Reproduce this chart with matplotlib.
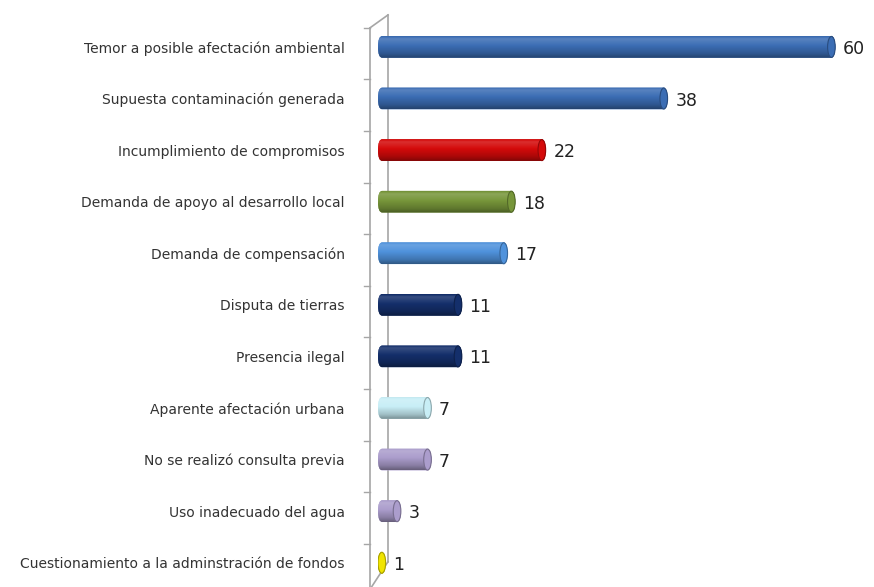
import numpy as np
import matplotlib.pyplot as plt
from matplotlib.patches import FancyBboxPatch, Ellipse
from matplotlib.colors import to_rgb

categories = [
    "Temor a posible afectación ambiental",
    "Supuesta contaminación generada",
    "Incumplimiento de compromisos",
    "Demanda de apoyo al desarrollo local",
    "Demanda de compensación",
    "Disputa de tierras",
    "Presencia ilegal",
    "Aparente afectación urbana",
    "No se realizó consulta previa",
    "Uso inadecuado del agua",
    "Cuestionamiento a la adminstración de fondos",
]
values = [60, 38, 22, 18, 17, 11, 11, 7, 7, 3, 1]
colors = ["#3b6db4", "#3b6db4", "#d40a0a", "#77963a", "#4f92dc", "#142f6b",
          "#142f6b", "#c8eef6", "#ab9dcc", "#ab9dcc", "#f0e400"]

fig = plt.figure(figsize=(8.74, 5.87), dpi=100)
ax = fig.add_axes([0.4325, 0.0, 0.558, 0.964])

bar_h = 0.42


def shade(c, f):
    c = np.array(to_rgb(c))
    if f >= 0:
        return c + (1 - c) * f
    return c * (1 + f)


for i, (v, c) in enumerate(zip(values, colors)):
    y0 = i - bar_h / 2
    patch = FancyBboxPatch((0, y0), v, bar_h,
                           boxstyle="round,pad=0,rounding_size=0.55",
                           mutation_aspect=bar_h / 1.1, fc=c, ec="none", zorder=2)
    ax.add_patch(patch)
    # vertical gradient for a cylinder look
    t = np.linspace(0, 1, 64)
    prof = np.interp(t, [0, 0.12, 0.4, 0.8, 1], [-0.05, 0.15, 0.02, -0.2, -0.4])
    grad = np.array([shade(c, p) for p in prof]).clip(0, 1)
    img = ax.imshow(grad[:, None, :], extent=[0, v, y0 + bar_h, y0],
                    aspect="auto", zorder=3, interpolation="bilinear")
    img.set_clip_path(patch)
    # end cap
    cap = Ellipse((v - 0.5, i), 1.0, bar_h * 0.97, fc=shade(c, 0.0),
                  ec=shade(c, -0.3), lw=0.8, zorder=4)
    ax.add_patch(cap)
    ax.text(v + 1.0, i + 0.04, str(v), va="center", ha="left",
            fontsize=12.5, color="#222222", zorder=5)

# 3D wall outline
wall = "#a6a6a6"
ax.plot([-1.05, -1.05], [-0.37, 10.55], color=wall, lw=1.2, clip_on=False, zorder=1)
ax.plot([-1.05, 1.31], [-0.37, -0.62], color=wall, lw=1.2, clip_on=False, zorder=1)
ax.plot([1.31, 1.31], [-0.62, 9.98], color=wall, lw=1.2, clip_on=False, zorder=1)
ax.plot([1.31, -0.85], [9.98, 10.47], color=wall, lw=1.2, clip_on=False, zorder=1)
for k in range(-1, len(values)):
    yt = k + 0.5 + 0.13
    if yt < -0.4:
        continue
    ax.plot([-1.85, -1.05], [yt, yt], color=wall, lw=1.0, clip_on=False, zorder=1)

ax.set_xlim(0, 64)
ax.set_ylim(10.47, -0.5)
ax.set_yticks(range(len(categories)))
ax.set_yticklabels(categories, fontsize=10, color="#333333")
ax.tick_params(axis="y", length=0, pad=24)
ax.set_xticks([])
for s in ax.spines.values():
    s.set_visible(False)
ax.patch.set_alpha(0)

fig.savefig("out.png", dpi=100)
